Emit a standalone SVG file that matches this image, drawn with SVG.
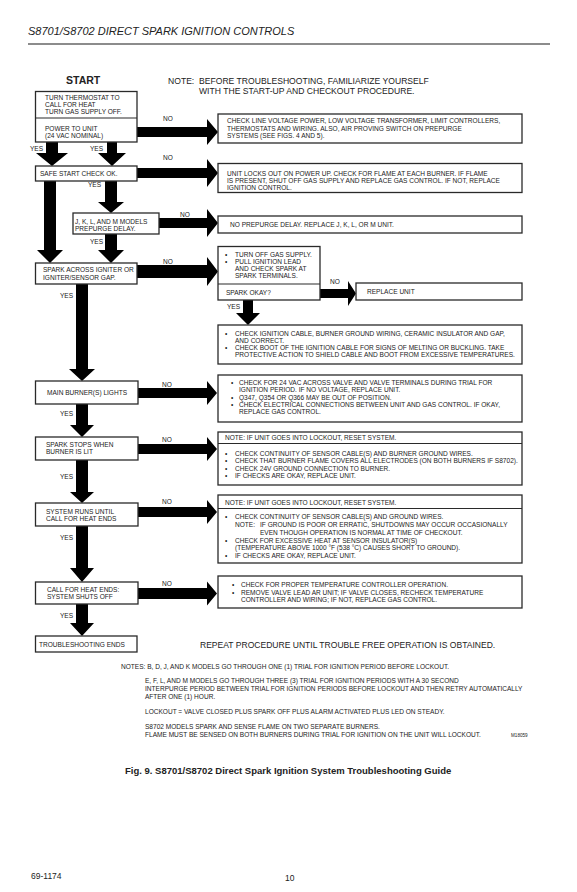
<svg xmlns="http://www.w3.org/2000/svg" width="577" height="892" viewBox="0 0 577 892">
<style>
text{font-family:"Liberation Sans",Arial,sans-serif;fill:#222}
.t{font-size:6.55px}
.h{font-size:11px;font-style:italic}
.n{font-size:8.6px}
.rp{font-size:8.55px}
.st{font-size:10.5px;font-weight:bold}
.cap{font-size:9.5px;font-weight:bold}
.sm{font-size:4.6px}
.ft{font-size:8.5px}
.box{fill:#fff;stroke:#2a2a2a;stroke-width:1.3}
.div{stroke:#2a2a2a;stroke-width:1.1}
.arr{fill:#000}
</style>
<rect width="577" height="892" fill="#fff"/>
<g id="header">
<text class="h" x="28" y="35">S8701/S8702 DIRECT SPARK IGNITION CONTROLS</text>
<line x1="28" y1="44" x2="550" y2="44" stroke="#666" stroke-width="1.5"/>
</g>
<text class="st" x="66" y="84">START</text>
<text class="n" x="168" y="84">NOTE:</text>
<text class="n" x="199" y="84">BEFORE TROUBLESHOOTING, FAMILIARIZE YOURSELF</text>
<text class="n" x="199" y="93.5">WITH THE START-UP AND CHECKOUT PROCEDURE.</text>

<g id="connectors">
<polygon class="arr" points="46,142 58,142 58,153 68,153 52,166 36,153 46,153"/>
<polygon class="arr" points="107,142 117,142 117,153 126,153 112,166 98,153 107,153"/>
<polygon class="arr" points="44,181 56,181 56,250 63,250 50,263 37,250 44,250"/>
<polygon class="arr" points="105,181 117,181 117,202 124,202 111,213 98,202 105,202"/>
<polygon class="arr" points="105,234 117,234 117,250 124,250 111,263 98,250 105,250"/>
<polygon class="arr" points="76,284 88,284 88,369 95,369 82,381 69,369 76,369"/>
<polygon class="arr" points="76,404 88,404 88,425 94,425 82,437 70,425 76,425"/>
<polygon class="arr" points="76,460 88,460 88,492 94,492 82,503 70,492 76,492"/>
<polygon class="arr" points="76,526 88,526 88,568 94,568 82,582 70,568 76,568"/>
<polygon class="arr" points="76,604 88,604 88,623 94,623 82,636 70,623 76,623"/>
<polygon class="arr" points="243,300 253,300 253,313 260,313 248,325 236,313 243,313"/>
<polygon class="arr" points="137,127 207,127 207,119 218,132 207,145 207,137 137,137"/>
<polygon class="arr" points="137,168 207,168 207,159 218,173 207,187 207,178 137,178"/>
<polygon class="arr" points="159,218 207,218 207,209 218,223 207,237 207,228 159,228"/>
<polygon class="arr" points="137,265 207,265 207,257 218,271.5 207,286 207,278 137,278"/>
<polygon class="arr" points="320,289 348,289 348,281 356,293.5 348,306 348,298 320,298"/>
<polygon class="arr" points="138,388 207,388 207,381 217,393 207,405 207,398 138,398"/>
<polygon class="arr" points="138,444 207,444 207,437 217,449 207,461 207,454 138,454"/>
<polygon class="arr" points="138,507 207,507 207,500 217,512 207,524 207,517 138,517"/>
<polygon class="arr" points="138,588 207,588 207,581.5 217,593.5 207,605.5 207,599 138,599"/>
<text class="t" x="163" y="121.3">NO</text>
<text class="t" x="30" y="151.3">YES</text>
<text class="t" x="90" y="151.3">YES</text>
<text class="t" x="163" y="160.3">NO</text>
<text class="t" x="88" y="187.3">YES</text>
<text class="t" x="180" y="217.3">NO</text>
<text class="t" x="90" y="244.3">YES</text>
<text class="t" x="163" y="264.3">NO</text>
<text class="t" x="330" y="284.3">NO</text>
<text class="t" x="227" y="309.3">YES</text>
<text class="t" x="60" y="298.3">YES</text>
<text class="t" x="162" y="387.3">NO</text>
<text class="t" x="60" y="416.3">YES</text>
<text class="t" x="162" y="442.3">NO</text>
<text class="t" x="60" y="479.3">YES</text>
<text class="t" x="162" y="504.3">NO</text>
<text class="t" x="60" y="540.3">YES</text>
<text class="t" x="162" y="586.3">NO</text>
<text class="t" x="60" y="618.3">YES</text>
</g>

<g id="n-start">
<rect class="box" x="35.5" y="91.5" width="101.5" height="50.5"/>
<line class="div" x1="35.5" y1="118" x2="137" y2="118"/>
<text class="t" x="45" y="100">TURN THERMOSTAT TO</text>
<text class="t" x="45" y="107.2">CALL FOR HEAT</text>
<text class="t" x="45" y="114.4">TURN GAS SUPPLY OFF.</text>
<text class="t" x="45" y="130.5">POWER TO UNIT</text>
<text class="t" x="45" y="137.7">(24 VAC NOMINAL)</text>
</g>
<g id="n-line">
<rect class="box" x="218" y="114" width="304" height="29"/>
<text class="t" x="227" y="123.3">CHECK LINE VOLTAGE POWER, LOW VOLTAGE TRANSFORMER, LIMIT CONTROLLERS,</text>
<text class="t" x="227" y="130.5">THERMOSTATS AND WIRING. ALSO, AIR PROVING SWITCH ON PREPURGE</text>
<text class="t" x="227" y="137.7">SYSTEMS (SEE FIGS. 4 AND 5).</text>
</g>
<g id="n-safe">
<rect class="box" x="35.5" y="166" width="101.5" height="15"/>
<text class="t" x="40" y="176.3">SAFE START CHECK OK.</text>
</g>
<g id="n-locks">
<rect class="box" x="218" y="163.5" width="304" height="29"/>
<text class="t" x="227" y="175.5">UNIT LOCKS OUT ON POWER UP. CHECK FOR FLAME AT EACH BURNER. IF FLAME</text>
<text class="t" x="227" y="183">IS PRESENT, SHUT OFF GAS SUPPLY AND REPLACE GAS CONTROL. IF NOT, REPLACE</text>
<text class="t" x="227" y="190">IGNITION CONTROL.</text>
</g>
<g id="n-jklm">
<rect class="box" x="73" y="213" width="86" height="21"/>
<text class="t" x="75" y="224.3">J, K, L, AND M MODELS</text>
<text class="t" x="75" y="231.3">PREPURGE DELAY.</text>
</g>
<g id="n-prepurge">
<rect class="box" x="218" y="216" width="304" height="17"/>
<text class="t" x="230" y="226.5">NO PREPURGE DELAY. REPLACE  J, K, L, OR M UNIT.</text>
</g>
<g id="n-spark">
<rect class="box" x="35.5" y="263" width="101.5" height="21"/>
<text class="t" x="43" y="272.3">SPARK ACROSS IGNITER OR</text>
<text class="t" x="43" y="279.5">IGNITER/SENSOR GAP.</text>
</g>
<g id="n-turnoff">
<rect class="box" x="218" y="246.5" width="102" height="53.5"/>
<line class="div" x1="218" y1="284" x2="320" y2="284"/>
<text class="t" x="225" y="257.3">•</text>
<text class="t" x="235" y="257.3">TURN OFF GAS SUPPLY.</text>
<text class="t" x="225" y="264.3">•</text>
<text class="t" x="235" y="264.3">PULL IGNITION LEAD</text>
<text class="t" x="235" y="271.3">AND CHECK SPARK AT</text>
<text class="t" x="235" y="278.3">SPARK TERMINALS.</text>
<text class="t" x="226" y="295.3">SPARK OKAY?</text>
</g>
<g id="n-replace">
<rect class="box" x="356" y="283" width="166" height="17"/>
<text class="t" x="367" y="294.3">REPLACE UNIT</text>
</g>
<g id="n-cable">
<rect class="box" x="218" y="325" width="304" height="39"/>
<text class="t" x="225" y="335.6">•</text>
<text class="t" x="235" y="335.6">CHECK IGNITION CABLE, BURNER GROUND WIRING, CERAMIC INSULATOR AND GAP,</text>
<text class="t" x="235" y="342.6">AND CORRECT.</text>
<text class="t" x="225" y="349.6">•</text>
<text class="t" x="235" y="349.6">CHECK BOOT OF THE IGNITION CABLE FOR SIGNS OF MELTING OR BUCKLING. TAKE</text>
<text class="t" x="235" y="356.6">PROTECTIVE ACTION TO SHIELD CABLE AND BOOT FROM EXCESSIVE TEMPERATURES.</text>
</g>
<g id="n-main">
<rect class="box" x="35.5" y="381" width="102.5" height="23"/>
<text class="t" x="47" y="395.3">MAIN BURNER(S) LIGHTS</text>
</g>
<g id="n-24vac">
<rect class="box" x="218" y="375" width="304" height="47"/>
<text class="t" x="231" y="385.3">•</text>
<text class="t" x="239" y="385.3">CHECK FOR 24 VAC ACROSS VALVE AND VALVE TERMINALS  DURING TRIAL FOR</text>
<text class="t" x="239" y="392.3">IGNITION PERIOD. IF NO VOLTAGE, REPLACE UNIT.</text>
<text class="t" x="231" y="399.5">•</text>
<text class="t" x="239" y="399.5">Q347, Q354 OR Q366 MAY BE OUT OF POSITION.</text>
<text class="t" x="231" y="406.8">•</text>
<text class="t" x="239" y="406.8">CHECK ELECTRICAL CONNECTIONS BETWEEN UNIT AND GAS CONTROL. IF OKAY,</text>
<text class="t" x="239" y="414">REPLACE GAS CONTROL.</text>
</g>
<g id="n-stops">
<rect class="box" x="35.5" y="437" width="102.5" height="23"/>
<text class="t" x="46" y="447.3">SPARK STOPS WHEN</text>
<text class="t" x="46" y="454.3">BURNER IS LIT</text>
</g>
<g id="n-note1">
<rect class="box" x="218" y="432" width="304" height="53"/>
<line class="div" x1="218" y1="443.5" x2="522" y2="443.5"/>
<text class="t" x="225" y="440">NOTE: IF UNIT GOES INTO LOCKOUT, RESET SYSTEM.</text>
<text class="t" x="225" y="455.5">•</text>
<text class="t" x="235" y="455.5">CHECK CONTINUITY OF SENSOR CABLE(S) AND BURNER GROUND WIRES.</text>
<text class="t" x="225" y="463">•</text>
<text class="t" x="235" y="463">CHECK THAT BURNER FLAME COVERS ALL ELECTRODES (ON BOTH BURNERS IF S8702).</text>
<text class="t" x="225" y="470.5">•</text>
<text class="t" x="235" y="470.5">CHECK 24V GROUND CONNECTION TO BURNER.</text>
<text class="t" x="225" y="478">•</text>
<text class="t" x="235" y="478">IF CHECKS ARE OKAY, REPLACE UNIT.</text>
</g>
<g id="n-runs">
<rect class="box" x="35.5" y="503" width="102.5" height="23"/>
<text class="t" x="46" y="514.3">SYSTEM RUNS UNTIL</text>
<text class="t" x="46" y="521.3">CALL FOR HEAT ENDS</text>
</g>
<g id="n-note2">
<rect class="box" x="218" y="495" width="304" height="68"/>
<line class="div" x1="218" y1="508.5" x2="522" y2="508.5"/>
<text class="t" x="225" y="504.5">NOTE: IF UNIT GOES INTO LOCKOUT, RESET SYSTEM.</text>
<text class="t" x="225" y="519.3">•</text>
<text class="t" x="235" y="519.3">CHECK CONTINUITY OF SENSOR CABLE(S) AND GROUND WIRES.</text>
<text class="t" x="235" y="527">NOTE:</text>
<text class="t" x="260" y="527">IF GROUND IS POOR OR ERRATIC, SHUTDOWNS MAY OCCUR OCCASIONALLY</text>
<text class="t" x="260" y="534.8">EVEN THOUGH OPERATION IS NORMAL AT TIME OF CHECKOUT.</text>
<text class="t" x="225" y="542.5">•</text>
<text class="t" x="235" y="542.5">CHECK FOR EXCESSIVE HEAT AT SENSOR INSULATOR(S)</text>
<text class="t" x="235" y="550.3">(TEMPERATURE ABOVE 1000 °F (538 °C) CAUSES SHORT TO GROUND).</text>
<text class="t" x="225" y="558">•</text>
<text class="t" x="235" y="558">IF CHECKS ARE OKAY, REPLACE UNIT.</text>
</g>
<g id="n-callends">
<rect class="box" x="35.5" y="582" width="102.5" height="22"/>
<text class="t" x="47" y="592.3">CALL FOR HEAT ENDS:</text>
<text class="t" x="47" y="599.3">SYSTEM SHUTS OFF</text>
</g>
<g id="n-proper">
<rect class="box" x="218" y="576" width="304" height="32"/>
<text class="t" x="232" y="587.3">•</text>
<text class="t" x="241" y="587.3">CHECK FOR PROPER TEMPERATURE CONTROLLER  OPERATION.</text>
<text class="t" x="232" y="594.8">•</text>
<text class="t" x="241" y="594.8">REMOVE VALVE LEAD AR UNIT; IF VALVE CLOSES, RECHECK TEMPERATURE</text>
<text class="t" x="241" y="602.3">CONTROLLER AND WIRING;  IF NOT, REPLACE GAS CONTROL.</text>
</g>
<g id="n-ends">
<rect class="box" x="35.5" y="636" width="101.5" height="16"/>
<text class="t" x="39" y="647.3">TROUBLESHOOTING ENDS</text>
</g>
<text class="rp" x="200" y="647.5">REPEAT PROCEDURE UNTIL TROUBLE FREE OPERATION IS OBTAINED.</text>

<g id="notes">
<text class="t" x="121" y="669.3">NOTES: B, D, J, AND K MODELS GO THROUGH ONE (1) TRIAL FOR IGNITION PERIOD BEFORE LOCKOUT.</text>
<text class="t" x="145" y="683.3">E, F, L, AND M MODELS GO THROUGH THREE (3) TRIAL FOR IGNITION PERIODS WITH A 30 SECOND</text>
<text class="t" x="145" y="691.3">INTERPURGE PERIOD BETWEEN TRIAL FOR IGNITION PERIODS BEFORE LOCKOUT AND THEN RETRY AUTOMATICALLY</text>
<text class="t" x="145" y="699.3">AFTER ONE (1) HOUR.</text>
<text class="t" x="145" y="714.3">LOCKOUT = VALVE CLOSED PLUS SPARK OFF PLUS ALARM ACTIVATED PLUS LED ON STEADY.</text>
<text class="t" x="145" y="729.3">S8702 MODELS SPARK AND SENSE FLAME ON TWO SEPARATE BURNERS.</text>
<text class="t" x="145" y="737.3">FLAME MUST BE SENSED ON BOTH BURNERS DURING TRIAL FOR IGNITION ON THE UNIT WILL LOCKOUT.</text>
<text class="sm" x="511" y="737">M18059</text>
</g>
<text class="cap" x="125" y="773.5">Fig. 9. S8701/S8702 Direct Spark Ignition System Troubleshooting Guide</text>
<text class="ft" x="31" y="879">69-1174</text>
<text class="ft" x="285" y="881">10</text>
</svg>
